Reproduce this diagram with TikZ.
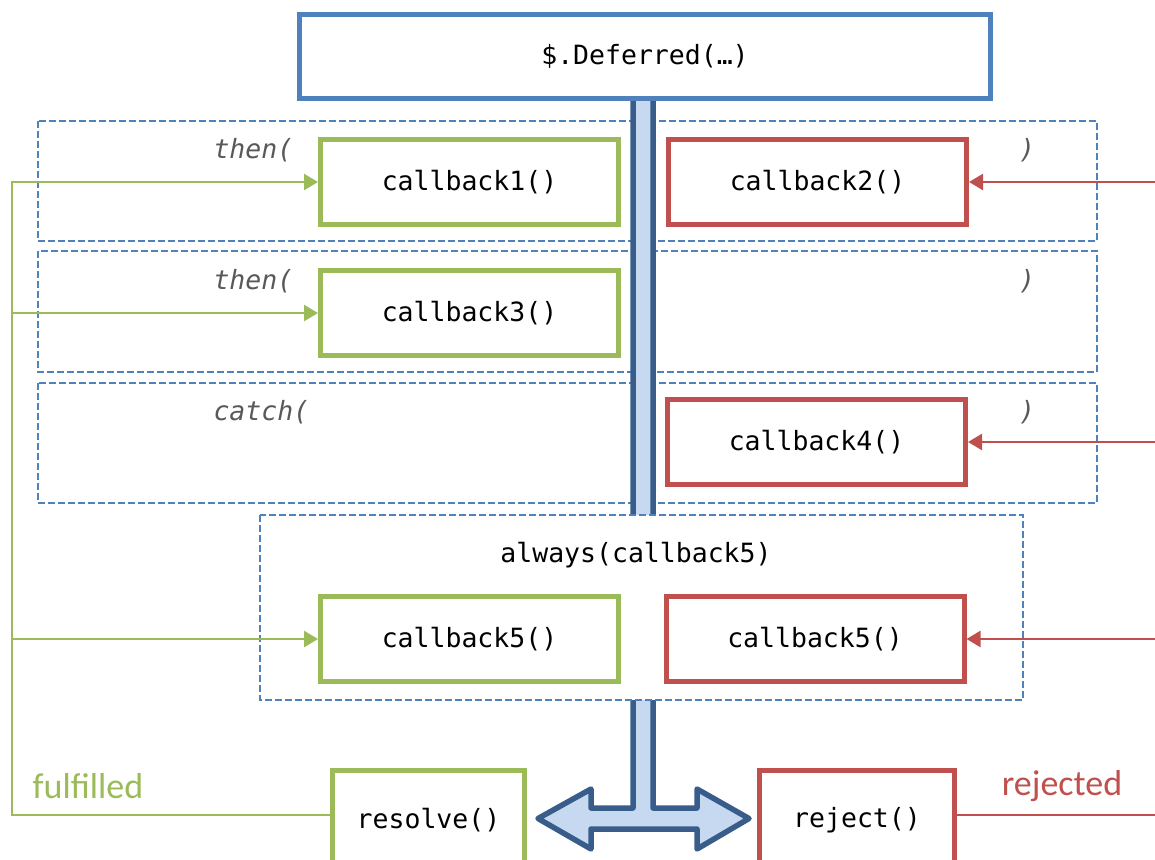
\documentclass[tikz,border=0pt]{standalone}
\usepackage{fontspec}
\setmonofont{DejaVu Sans Mono}
\setsansfont{Carlito}
\usepackage{tikz}
\usetikzlibrary{arrows.meta}
\definecolor{frame}{HTML}{4F81BD}
\definecolor{okgreen}{HTML}{9BBB59}
\definecolor{errred}{HTML}{C0504D}
\definecolor{pipe}{HTML}{385D8A}
\definecolor{pipefill}{HTML}{C6D9F1}
\definecolor{hint}{HTML}{595959}
\tikzset{
  code/.style={font=\ttfamily\fontsize{26.5}{30}\selectfont},
  kw/.style={font=\ttfamily\itshape\fontsize{26.5}{30}\selectfont, text=hint},
  cbox/.style={code, line width=5pt, fill=white, inner sep=0pt, minimum width=298pt, minimum height=85pt},
  okbox/.style={cbox, draw=okgreen},
  errbox/.style={cbox, draw=errred},
  defbox/.style={code, draw=frame, line width=5pt, fill=white, inner sep=0pt, minimum width=691pt, minimum height=84pt},
  callgrp/.style={draw=frame, line width=2.2pt, dash pattern=on 7pt off 3pt},
  pipeline/.style={draw=pipe, fill=pipefill, line width=5.5pt, line join=round},
  okflow/.style={draw=okgreen, line width=2.5pt},
  errflow/.style={draw=errred, line width=2.5pt},
  tip/.style={-{Triangle[length=14pt,width=16pt]}},
  statelab/.style={font=\sffamily\fontsize{36}{40}\selectfont}
}

\begin{document}
\begin{tikzpicture}[x=1pt, y=-1pt]
  \useasboundingbox (0,0) rectangle (1155,859);

  % then / then / catch groups
  \draw[callgrp] (38,121) rectangle (1097,241);
  \draw[callgrp] (38,251) rectangle (1097,372);
  \draw[callgrp] (38,383) rectangle (1097,503);

  % pipe down from the Deferred into the double arrow
  \filldraw[pipeline] (633,101) -- (633,808) -- (591,808) -- (591,789)
    -- (538,818.5) -- (591,849) -- (591,829) -- (697,829) -- (697,849)
    -- (749,818.5) -- (697,789) -- (697,808) -- (653,808) -- (653,101);

  % always group hides the pipe
  \draw[callgrp, fill=white] (260,515) rectangle (1023,700);

  \node[defbox] (def) at (645,56.5) {\$.Deferred(…)};

  \node[kw, anchor=west] (then1) at (210,150) {then(};
  \node[kw] (close1) at (1027,150) {)};
  \node[okbox] (cb1) at (469.5,182) {callback1()};
  \node[errbox] (cb2) at (817.5,182) {callback2()};

  \node[kw, anchor=west] (then2) at (210,281) {then(};
  \node[kw] (close2) at (1027,281) {)};
  \node[okbox] (cb3) at (469.5,313) {callback3()};

  \node[kw, anchor=west] (catch) at (210,412) {catch(};
  \node[kw] (close3) at (1027,412) {)};
  \node[errbox] (cb4) at (816.5,442) {callback4()};

  \node[code] (alw) at (636,555) {always(callback5)};
  \node[okbox] (cb5a) at (469.5,639) {callback5()};
  \node[errbox] (cb5b) at (815,639) {callback5()};

  \node[cbox, draw=okgreen, minimum width=192pt, minimum height=100pt] (res) at (428.5,820) {resolve()};
  \node[cbox, draw=errred, minimum width=195pt, minimum height=100pt] (rej) at (857,820) {reject()};

  \node[statelab, text=okgreen] (ful) at (88,786) {fulfilled};
  \node[statelab, text=errred] (rjt) at (1062,786) {rejected};

  % fulfilled path
  \coordinate (fl) at (12,815);
  \draw[okflow, tip] (res.west |- fl) -- (fl) |- (cb1.west);
  \draw[okflow, tip] (fl |- cb3.west) -- (cb3.west);
  \draw[okflow, tip] (fl |- cb5a.west) -- (cb5a.west);

  % rejected path
  \coordinate (rj) at (1160,815);
  \draw[errflow] (rej.east |- rj) -- (rj);
  \draw[errflow, tip] (rj |- cb2.east) -- (cb2.east);
  \draw[errflow, tip] (rj |- cb4.east) -- (cb4.east);
  \draw[errflow, tip] (rj |- cb5b.east) -- (cb5b.east);
\end{tikzpicture}
\end{document}
